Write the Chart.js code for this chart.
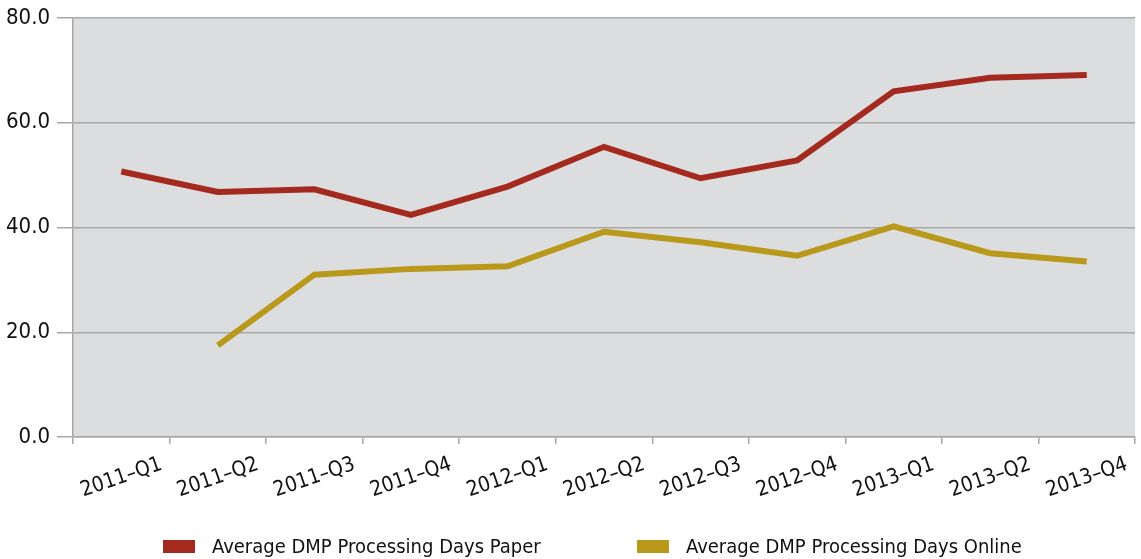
<!DOCTYPE html>
<html>
<head>
<meta charset="utf-8">
<script src="https://cdn.jsdelivr.net/npm/chart.js@4.4.0/dist/chart.umd.min.js"></script>
<style>
  html, body { margin: 0; padding: 0; background: #fff; }
  #wrap { position: relative; width: 1141px; height: 559px; }
  #legend { position: absolute; left: 0; top: 534px; width: 1141px; height: 26px;
            font-family: 'Liberation Sans Narrow', 'DejaVu Sans Condensed', sans-serif;
            font-size: 20px; color: #111; }
  .item { position: absolute; top: 0; display: flex; align-items: center; white-space: nowrap; }
  .box { width: 32px; height: 13px; margin-right: 17px; }
</style>
</head>
<body>
<div id="wrap">
  <canvas id="chart" width="1141" height="559"></canvas>
  <div id="legend"></div>
</div>
<script>
const FONT = "'Liberation Sans Narrow', 'DejaVu Sans Condensed', sans-serif";

const quarters = ['2011–Q1', '2011–Q2', '2011–Q3', '2011–Q4', '2012–Q1', '2012–Q2',
                  '2012–Q3', '2012–Q4', '2013–Q1', '2013–Q2', '2013–Q4'];
const paperDays = [50.7, 46.8, 47.3, 42.4, 47.8, 55.4, 49.4, 52.8, 66.0, 68.6, 69.1];
const onlineDays = [null, 17.5, 31.0, 32.1, 32.6, 39.2, 37.2, 34.6, 40.2, 35.1, 33.5];
const yTicks = [0, 20, 40, 60, 80];

const seriesNames = ['Average DMP Processing Days Paper', 'Average DMP Processing Days Online'];
const seriesColors = ['#a42a1f', '#b9991c'];

// grey plot background
const plotBg = {
  id: 'plotBg',
  beforeDraw(chart) {
    const { ctx, chartArea } = chart;
    ctx.save();
    ctx.fillStyle = '#dcdddf';
    ctx.fillRect(chartArea.left, chartArea.top, chartArea.right - chartArea.left, chartArea.bottom - chartArea.top);
    ctx.restore();
  }
};

new Chart(document.getElementById('chart'), {
  type: 'line',
  data: {
    labels: quarters,
    datasets: [paperDays, onlineDays].map((vals, i) => ({
      label: seriesNames[i],
      data: vals,
      borderColor: seriesColors[i],
      backgroundColor: seriesColors[i],
      borderWidth: 6,
      tension: 0,
      pointRadius: 0,
      borderCapStyle: 'butt',
      borderJoinStyle: 'miter',
      spanGaps: false
    }))
  },
  options: {
    responsive: false,
    animation: false,
    layout: { padding: { top: 18, right: 6, bottom: 60, left: 0 } },
    plugins: {
      legend: { display: false },
      tooltip: { enabled: false }
    },
    scales: {
      x: {
        offset: true,
        grid: {
          offset: true,
          drawOnChartArea: false,
          drawTicks: true,
          tickLength: 7,
          color: '#a8a8a8',
          lineWidth: 1.5
        },
        border: { color: '#a8a8a8', width: 1.5 },
        ticks: {
          minRotation: 19,
          maxRotation: 19,
          autoSkip: false,
          labelOffset: 40,
          padding: 8,
          color: '#111',
          font: { family: FONT, size: 21 }
        },
        afterFit(scale) { scale.height = 62; }
      },
      y: {
        min: 0,
        max: 80,
        afterBuildTicks(scale) { scale.ticks = yTicks.map(v => ({ value: v })); },
        grid: {
          color: '#a8a8a8',
          lineWidth: 1.5,
          tickLength: 16
        },
        border: { color: '#a8a8a8', width: 1.5 },
        ticks: {
          padding: 7,
          color: '#111',
          font: { family: FONT, size: 22 },
          callback: v => v.toFixed(1)
        },
        afterFit(scale) {
          scale.width = 73;
          scale.paddingTop = 0;
          scale.paddingBottom = 0;
        }
      }
    }
  },
  plugins: [plotBg]
});

// legend below the chart
const legendLeft = [163, 637];
const legend = document.getElementById('legend');
seriesNames.forEach((name, i) => {
  const item = document.createElement('div');
  item.className = 'item';
  item.style.left = legendLeft[i] + 'px';
  const box = document.createElement('span');
  box.className = 'box';
  box.style.background = seriesColors[i];
  const txt = document.createElement('span');
  txt.textContent = name;
  item.appendChild(box);
  item.appendChild(txt);
  legend.appendChild(item);
});
</script>
</body>
</html>
